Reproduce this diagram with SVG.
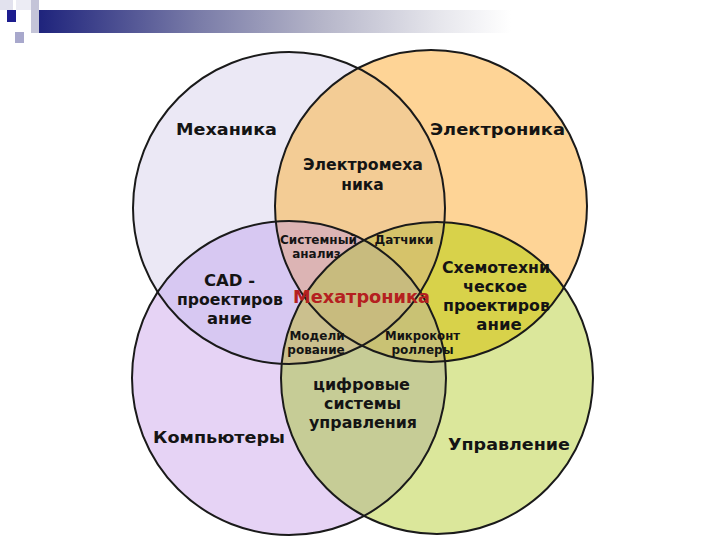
<svg xmlns="http://www.w3.org/2000/svg" width="720" height="540" viewBox="0 0 720 540">
<defs>
<linearGradient id="bar" x1="0" y1="0" x2="1" y2="0">
<stop offset="0" stop-color="#1a1f7a"/>
<stop offset="0.35" stop-color="#7a7ca8"/>
<stop offset="0.6" stop-color="#b4b4c8"/>
<stop offset="0.85" stop-color="#e6e6ec"/>
<stop offset="1" stop-color="#ffffff"/>
</linearGradient>
<clipPath id="cTL"><circle cx="289" cy="208" r="156"/></clipPath>
<clipPath id="cTR"><circle cx="431" cy="206" r="156"/></clipPath>
<clipPath id="cBL"><circle cx="289" cy="378" r="157"/></clipPath>
<clipPath id="cBR"><circle cx="437" cy="378" r="156"/></clipPath>
<style>
.ring{fill:none;stroke:#1a1a1a;stroke-width:2}
text{font-family:"DejaVu Sans","Liberation Sans",sans-serif;font-weight:bold;fill:#141414;text-anchor:middle}
.big{font-size:16.5px}
.mid{font-size:15.5px}
.sm{font-size:12px}
.red{fill:#b52020;font-size:17.5px}
</style>
</defs>
<rect width="720" height="540" fill="#ffffff"/>
<g id="header">
<rect x="31" y="10" width="480" height="23" fill="url(#bar)"/>
<rect x="0" y="0" width="13" height="10" fill="#e2e2ee"/>
<rect x="16" y="0" width="15" height="10" fill="#ececf4"/>
<rect x="31" y="0" width="8" height="33" fill="#c4c4d8"/>
<rect x="7" y="10" width="9" height="12" fill="#1c1c8e"/>
<rect x="15" y="32" width="9" height="11" fill="#a8a8cc"/>
</g>
<g id="fills">
<circle cx="289" cy="208" r="156" fill="#ebe8f5"/>
<circle cx="431" cy="206" r="156" fill="#fed496"/>
<circle cx="289" cy="378" r="157" fill="#e6d3f5"/>
<circle cx="437" cy="378" r="156" fill="#dbe79b"/>
<circle cx="431" cy="206" r="156" fill="#f3cc95" clip-path="url(#cTL)"/>
<circle cx="289" cy="378" r="157" fill="#d7c8f2" clip-path="url(#cTL)"/>
<circle cx="437" cy="378" r="156" fill="#d8d24a" clip-path="url(#cTR)"/>
<circle cx="437" cy="378" r="156" fill="#c6cc96" clip-path="url(#cBL)"/>
<circle cx="289" cy="378" r="157" fill="#dcb4b4" clip-path="url(#cTR)"/>
<circle cx="437" cy="378" r="156" fill="#d4c870" clip-path="url(#cTL)"/>
<g clip-path="url(#cTL)"><circle cx="289" cy="378" r="157" fill="#dcb4b4" clip-path="url(#cTR)"/></g>
<g clip-path="url(#cTL)"><circle cx="437" cy="378" r="156" fill="#d6c36a" clip-path="url(#cTR)"/></g>
<g clip-path="url(#cTL)"><circle cx="437" cy="378" r="156" fill="#cbc08e" clip-path="url(#cBL)"/></g>
<g clip-path="url(#cTR)"><circle cx="437" cy="378" r="156" fill="#c9c274" clip-path="url(#cBL)"/></g>
<g clip-path="url(#cTL)"><g clip-path="url(#cTR)"><circle cx="437" cy="378" r="156" fill="#c8bb7e" clip-path="url(#cBL)"/></g></g>
</g>
<g id="mechanics">
<circle class="ring" cx="289" cy="208" r="156"/>
<text class="big" x="226.5" y="135" textLength="101" lengthAdjust="spacingAndGlyphs">Механика</text>
</g>
<g id="electronics">
<circle class="ring" cx="431" cy="206" r="156"/>
<text class="big" x="497.5" y="135" textLength="135" lengthAdjust="spacingAndGlyphs">Электроника</text>
</g>
<g id="computers">
<circle class="ring" cx="289" cy="378" r="157"/>
<text class="big" x="219" y="443" textLength="132" lengthAdjust="spacingAndGlyphs">Компьютеры</text>
</g>
<g id="control">
<circle class="ring" cx="437" cy="378" r="156"/>
<text class="big" x="509" y="450" textLength="122" lengthAdjust="spacingAndGlyphs">Управление</text>
</g>
<g id="electromechanics">
<text class="mid" x="363" y="170" textLength="120" lengthAdjust="spacingAndGlyphs">Электромеха</text>
<text class="mid" x="362.5" y="190">ника</text>
</g>
<g id="system-analysis">
<text class="sm" x="318.5" y="244" textLength="77" lengthAdjust="spacingAndGlyphs">Системный</text>
<text class="sm" x="316.5" y="258">анализ</text>
</g>
<g id="sensors">
<text class="sm" x="404" y="244">Датчики</text>
</g>
<g id="cad">
<text class="big" x="229.5" y="286" textLength="51" lengthAdjust="spacingAndGlyphs">CAD -</text>
<text class="big" x="230" y="305" textLength="106" lengthAdjust="spacingAndGlyphs">проектиров</text>
<text class="big" x="229.5" y="324" textLength="45" lengthAdjust="spacingAndGlyphs">ание</text>
</g>
<g id="mechatronics">
<text class="red" x="361.5" y="303" textLength="137" lengthAdjust="spacingAndGlyphs">Мехатроника</text>
</g>
<g id="circuit-design">
<text class="big" x="496" y="273" textLength="108" lengthAdjust="spacingAndGlyphs">Схемотехни</text>
<text class="big" x="495" y="292" textLength="64" lengthAdjust="spacingAndGlyphs">ческое</text>
<text class="big" x="496.5" y="311" textLength="107" lengthAdjust="spacingAndGlyphs">проектиров</text>
<text class="big" x="499" y="330">ание</text>
</g>
<g id="modeling">
<text class="sm" x="317" y="340">Модели</text>
<text class="sm" x="316" y="354">рование</text>
</g>
<g id="microcontrollers">
<text class="sm" x="422.5" y="340" textLength="75" lengthAdjust="spacingAndGlyphs">Микроконт</text>
<text class="sm" x="422.5" y="354">роллеры</text>
</g>
<g id="digital-control">
<text class="big" x="361.5" y="390" textLength="97" lengthAdjust="spacingAndGlyphs">цифровые</text>
<text class="big" x="362.5" y="409" textLength="77" lengthAdjust="spacingAndGlyphs">системы</text>
<text class="big" x="363" y="428" textLength="108" lengthAdjust="spacingAndGlyphs">управления</text>
</g>
</svg>
